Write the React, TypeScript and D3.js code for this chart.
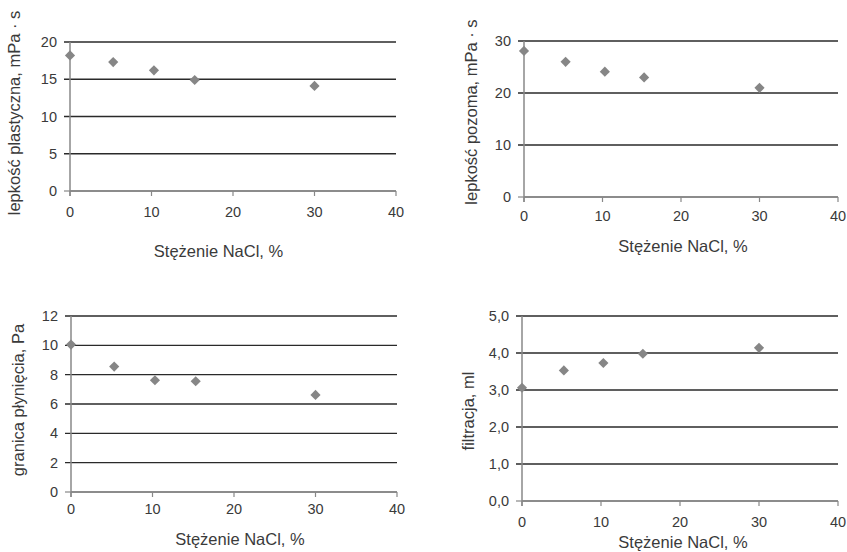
import React from "react";
import * as d3 from "d3";

const concentration = [0, 5.3, 10.3, 15.3, 30];
const plasticViscosity = [18.2, 17.3, 16.2, 14.9, 14.1];
const apparentViscosity = [28.1, 26.0, 24.1, 23.0, 21.0];
const yieldPoint = [10.05, 8.55, 7.62, 7.55, 6.62];
const filtration = [3.06, 3.53, 3.73, 3.98, 4.14];

const xTicks = [0, 10, 20, 30, 40];
const xTitle = "Stężenie NaCl, %";

const yLabels = [
  "lepkość plastyczna, mPa · s",
  "lepkość pozoma, mPa · s",
  "granica płynięcia, Pa",
  "filtracja, ml",
];
const yMaxes = [20, 30, 12, 5];
const yTickSteps = [5, 10, 2, 1];
const series = [plasticViscosity, apparentViscosity, yieldPoint, filtration];

const layouts = [
  { x0: 70, x1: 396, yTop: 42, yBot: 191, xTickY: 217, yLabX: 20, yLabY: 113, tX: 218.5, tY: 257, dec: 0 },
  { x0: 524, x1: 838, yTop: 41, yBot: 197, xTickY: 220.5, yLabX: 477, yLabY: 112, tX: 683, tY: 252, dec: 0 },
  { x0: 71, x1: 397, yTop: 316, yBot: 492, xTickY: 514, yLabX: 24, yLabY: 400, tX: 240, tY: 545, dec: 0 },
  { x0: 522, x1: 838, yTop: 316, yBot: 501, xTickY: 527, yLabX: 474, yLabY: 411, tX: 683, tY: 548, dec: 1 },
];

const FONT = "'Liberation Sans', Arial, sans-serif";
const TEXT = "#3a3a3a";

function Panel({ idx }: { idx: number }) {
  const L = layouts[idx];
  const yMax = yMaxes[idx];
  const x = d3.scaleLinear().domain([0, 40]).range([L.x0, L.x1]);
  const y = d3.scaleLinear().domain([0, yMax]).range([L.yBot, L.yTop]);
  const yTicks = d3.range(0, yMax + 1e-9, yTickSteps[idx]);
  const fmt = (v: number) =>
    L.dec ? v.toFixed(L.dec).replace(".", ",") : String(v);
  const diamond = d3.symbol().type(d3.symbolDiamond2).size(66)();
  const vals = series[idx];
  return (
    <g>
      {yTicks.map((t) => (
        <g key={"y" + t}>
          {t > 0 && (
            <line x1={L.x0 - 6} x2={L.x1} y1={y(t)} y2={y(t)} stroke="#2a2a2a" strokeWidth={1.3} />
          )}
          {t === 0 && (
            <line x1={L.x0 - 6} x2={L.x0} y1={y(t)} y2={y(t)} stroke="#888" strokeWidth={1.2} />
          )}
          <text x={L.x0 - 13} y={y(t)} dy="0.35em" textAnchor="end" fontSize={14.5} fill={TEXT} fontFamily={FONT}>
            {fmt(t)}
          </text>
        </g>
      ))}
      <line x1={L.x0} x2={L.x1} y1={L.yBot} y2={L.yBot} stroke="#666" strokeWidth={1.3} />
      {xTicks.map((t) => (
        <g key={"x" + t}>
          <line x1={x(t)} x2={x(t)} y1={L.yBot} y2={L.yBot + 5} stroke="#888" strokeWidth={1.2} />
          <text x={x(t)} y={L.xTickY} textAnchor="middle" fontSize={14.5} fill={TEXT} fontFamily={FONT}>
            {t}
          </text>
        </g>
      ))}
      <line x1={L.x0} x2={L.x0} y1={L.yTop} y2={L.yBot + 5} stroke="#888" strokeWidth={1.5} />
      {vals.map((v, i) => (
        <path key={i} d={diamond || ""} transform={`translate(${x(concentration[i])},${y(v)})`} fill="#868686" />
      ))}
      <text x={L.tX} y={L.tY} textAnchor="middle" fontSize={16.5} fill={TEXT} fontFamily={FONT}>
        {xTitle}
      </text>
      <text
        transform={`translate(${L.yLabX},${L.yLabY}) rotate(-90)`}
        textAnchor="middle"
        fontSize={16.5}
        fill={TEXT}
        fontFamily={FONT}
      >
        {yLabels[idx]}
      </text>
    </g>
  );
}

export default function App() {
  return (
    <svg
      width={847}
      height={552}
      style={{ position: "absolute", left: 0, top: 0, background: "#fff" }}
    >
      <rect width={847} height={552} fill="#fff" />
      {[0, 1, 2, 3].map((i) => (
        <Panel key={i} idx={i} />
      ))}
    </svg>
  );
}
